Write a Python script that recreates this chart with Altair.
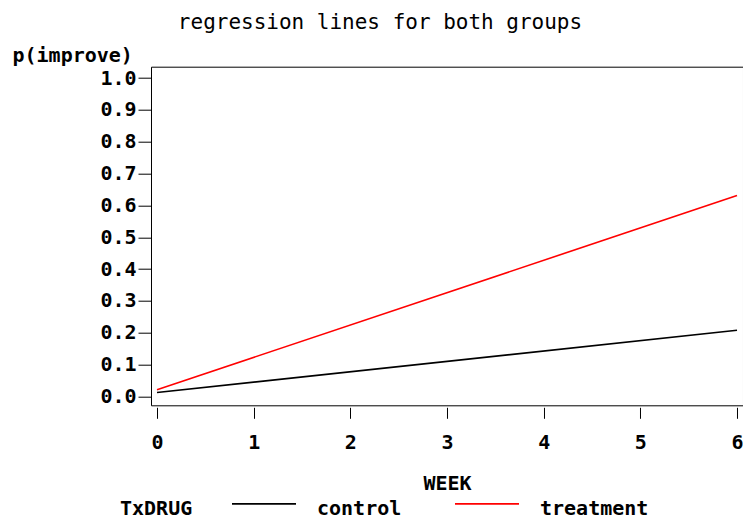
import altair as alt
import pandas as pd

# values
weeks = [0, 6]
control_p = [0.012, 0.208]
treatment_p = [0.021, 0.631]
groups = ["control", "treatment"]
colors = ["#000000", "#ff0000"]
x_ticks = [0, 1, 2, 3, 4, 5, 6]
y_ticks = [0.0, 0.1, 0.2, 0.3, 0.4, 0.5, 0.6, 0.7, 0.8, 0.9, 1.0]

df = pd.DataFrame({
    "WEEK": weeks + weeks,
    "p": control_p + treatment_p,
    "TxDRUG": [groups[0]] * len(weeks) + [groups[1]] * len(weeks),
})

FONT = "DejaVu Sans Mono"
PAD_L = 143
PAD_T = 58.7
W = 592
H = 338.6

chart = alt.Chart(df).mark_line(strokeWidth=1.6).encode(
    x=alt.X(
        "WEEK:Q",
        scale=alt.Scale(domain=[-0.062, 6.062], nice=False, zero=False),
        axis=alt.Axis(
            values=x_ticks, format="d", domain=False, offset=2, tickSize=11,
            tickColor="black", tickWidth=1, labelPadding=14, labelFont=FONT,
            labelFontSize=20, labelFontWeight="bold", labelColor="black",
            labelFlush=False, labelOverlap=False, grid=False,
            title="WEEK", titleFont=FONT, titleFontSize=20, titleFontWeight="bold",
            titleColor="black", titleX=W / 2, titleY=82, titleAlign="center",
            titleBaseline="alphabetic",
        ),
    ),
    y=alt.Y(
        "p:Q",
        scale=alt.Scale(domain=[-0.028, 1.036], nice=False, zero=False),
        axis=alt.Axis(
            values=y_ticks, format=".1f", domain=False, tickSize=13,
            tickColor="black", tickWidth=1, labelPadding=2, labelFont=FONT,
            labelFontSize=20, labelFontWeight="bold", labelColor="black",
            labelOverlap=False, labelFlush=False, grid=False,
            title="p(improve)", titleFont=FONT, titleFontSize=20,
            titleFontWeight="bold", titleColor="black", titleAngle=0,
            titleAlign="left", titleBaseline="alphabetic", titleX=-139, titleY=-5,
        ),
    ),
    color=alt.Color(
        "TxDRUG:N",
        scale=alt.Scale(domain=groups, range=colors),
        legend=alt.Legend(
            orient="none", legendX=-31, legendY=432, direction="horizontal",
            title="TxDRUG", titleOrient="left", titleFont=FONT, titleFontSize=20,
            titleFontWeight="bold", titleColor="black", titlePadding=37,
            titleBaseline="middle", titleAnchor="middle",
            labelFont=FONT, labelFontSize=20, labelFontWeight="bold",
            labelColor="black", labelOffset=67, columnPadding=49,
            symbolType="M-1,-0.6L7,-0.6", symbolSize=256, symbolStrokeWidth=1.6,
            padding=0, labelLimit=300, titleLimit=300,
        ),
    ),
).properties(
    width=W,
    height=H,
    title=alt.TitleParams(
        "regression lines for both groups", font=FONT, fontSize=21,
        fontWeight="normal", color="black", anchor="middle", frame="group",
        dx=-67, dy=22, offset=18, baseline="alphabetic",
    ),
    padding={"left": PAD_L, "top": PAD_T, "right": 0, "bottom": 115},
    autosize="none",
).configure_view(stroke="black", strokeWidth=1)

chart.save("out.html", embed_options={"renderer": "svg", "actions": False})
